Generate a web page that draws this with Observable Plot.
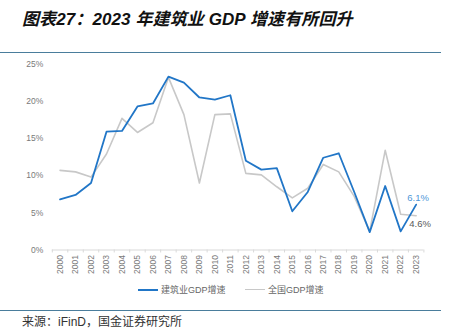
<!DOCTYPE html>
<html>
<head>
<meta charset="utf-8">
<script src="https://cdn.jsdelivr.net/npm/d3@7"></script>
<script src="https://cdn.jsdelivr.net/npm/@observablehq/plot@0.6"></script>
<style>
  html, body { margin: 0; padding: 0; background: #fff; }
  #wrap { position: relative; width: 452px; height: 330px; overflow: hidden; font-family: "Liberation Sans", Arial, "Noto Sans CJK SC", sans-serif; }
  #title { position: absolute; left: 22px; top: 5px; font-size: 17px; font-weight: bold; font-style: italic; color: #111; white-space: nowrap; letter-spacing: 0.1px; }
  .rule { position: absolute; left: 0; width: 441px; height: 1.6px; background: #4a7d9c; }
  #chart { position: absolute; left: 0; top: 53px; }
  #legend { position: absolute; top: 283px; left: 0; width: 452px; height: 12px; font-size: 9px; color: #666; }
  .lg { position: absolute; top: 0; display: flex; align-items: center; white-space: nowrap; }
  .sw { display: inline-block; width: 20px; margin-right: 3px; }
  #source { position: absolute; left: 22px; top: 312px; font-size: 12px; color: #333; white-space: nowrap; }
</style>
</head>
<body>
<div id="wrap">
  <div id="title">图表27：2023 年建筑业 GDP 增速有所回升</div>
  <div class="rule" style="top:51.5px"></div>
  <div id="chart"></div>
  <div id="legend"></div>
  <div class="rule" style="top:309.5px"></div>
  <div id="source">来源：iFinD，国金证券研究所</div>
</div>
<script>
const years = [2000,2001,2002,2003,2004,2005,2006,2007,2008,2009,2010,2011,2012,2013,2014,2015,2016,2017,2018,2019,2020,2021,2022,2023];
const construction = [6.8,7.4,9.0,15.9,16.0,19.3,19.7,23.3,22.5,20.5,20.2,20.8,12.0,10.8,11.0,5.2,7.8,12.4,13.0,7.8,2.4,8.6,2.5,6.1];
const national = [10.7,10.5,9.8,12.9,17.7,15.8,17.1,23.2,18.2,9.0,18.2,18.3,10.3,10.1,8.5,7.0,8.3,11.5,10.5,7.2,2.5,13.4,4.8,4.6];
const yTicks = [0,5,10,15,20,25];
const seriesNames = ["建筑业GDP增速", "全国GDP增速"];
const seriesColors = ["#2176c7", "#c8c8c8"];
const labelColors = ["#4f97d8", "#595959"];

const rowsC = years.map((yr, i) => ({year: yr, value: construction[i]}));
const rowsN = years.map((yr, i) => ({year: yr, value: national[i]}));
const boundaries = [years[0] - 0.5, ...years.map(y => y + 0.5)];

const chart = Plot.plot({
  width: 452,
  height: 230,
  marginLeft: 51.8,
  marginRight: 28.6,
  marginTop: 10.5,
  marginBottom: 33.5,
  style: {color: "#7a7a7a", fontFamily: "'Liberation Sans', Arial, sans-serif", background: "transparent", overflow: "visible"},
  x: {type: "linear", domain: [years[0] - 0.5, years[years.length - 1] + 0.5], axis: null},
  y: {domain: [0, 25], axis: null},
  marks: [
    Plot.axisY({ticks: yTicks, tickSize: 0, tickPadding: 9, tickFormat: d => d + "%", fontSize: 8.5, label: null}),
    Plot.axisX({ticks: years, tickSize: 0, tickPadding: 5, tickRotate: -90, tickFormat: d => String(d), fontSize: 8.5, label: null}),
    Plot.ruleY([0], {stroke: "#d9d9d9", strokeWidth: 1}),
    Plot.ruleX(boundaries, {y1: 0, y2: -0.4, stroke: "#d9d9d9", strokeWidth: 1}),
    Plot.line(rowsN, {x: "year", y: "value", stroke: seriesColors[1], strokeWidth: 1.6}),
    Plot.line(rowsC, {x: "year", y: "value", stroke: seriesColors[0], strokeWidth: 1.8}),
    Plot.text([rowsC[rowsC.length - 1]], {x: "year", y: "value", text: d => d.value.toFixed(1) + "%", fill: labelColors[0], fontSize: 9.5, dx: 2, dy: -6.5, textAnchor: "middle"}),
    Plot.text([rowsN[rowsN.length - 1]], {x: "year", y: "value", text: d => d.value.toFixed(1) + "%", fill: labelColors[1], fontSize: 9.5, dx: 4, dy: 8.5, textAnchor: "middle"})
  ]
});
document.getElementById("chart").appendChild(chart);

const legend = document.getElementById("legend");
const lgLeft = [138, 245];
seriesNames.forEach((name, i) => {
  const item = document.createElement("div");
  item.className = "lg";
  item.style.left = lgLeft[i] + "px";
  const sw = document.createElement("span");
  sw.className = "sw";
  sw.style.borderTop = (i === 0 ? "2px" : "1.4px") + " solid " + seriesColors[i];
  const tx = document.createElement("span");
  tx.textContent = name;
  item.appendChild(sw);
  item.appendChild(tx);
  legend.appendChild(item);
});
</script>
</body>
</html>
